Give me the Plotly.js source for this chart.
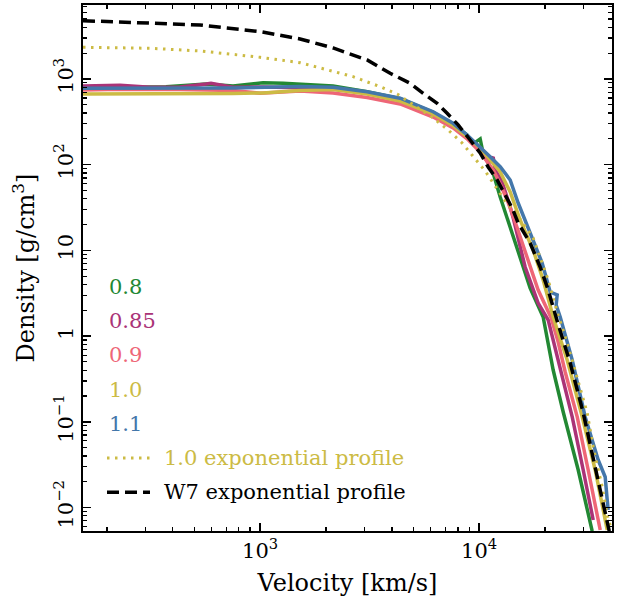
<!DOCTYPE html>
<html><head><meta charset="utf-8">
<script src="https://cdn.plot.ly/plotly-3.0.1.min.js"></script>
<style>html,body{margin:0;padding:0;background:#fff}</style>
</head><body><div id="chart" style="width:624px;height:605px"></div>
<script>
// ---- data (velocity km/s, density g/cm^3) ----
const v08 = [155.5, 229, 372, 567, 753, 1032, 1274, 1523, 2154, 3081, 4358, 6166, 7607, 8813, 9389, 10106, 10400, 10652, 11585, 12475, 13427, 14300, 15389, 17093, 19596, 21772, 24193, 28326, 32810];
const rho08 = [800, 795, 813, 874, 828, 906, 891, 874, 828, 711, 590, 407, 295, 222, 175, 200, 140, 123, 80, 42, 23.9, 14.7, 8.15, 3.64, 1.67, 0.402, 0.130, 0.0274, 0.0053];

const v085 = [155.5, 229.5, 314.6, 431, 567, 597, 753, 1032, 1523, 2154, 3081, 4358, 6166, 7607, 8813, 10106, 10994, 11585, 11834, 12735, 13857, 14300, 16218, 18591, 20660, 23442, 26593, 29855, 33157];
const rho085 = [828, 844, 800, 805, 874, 891, 800, 805, 790, 764, 687, 569, 391, 283, 211, 148, 105, 123, 86.7, 62.8, 32.1, 23.9, 6.4, 2.43, 1.54, 0.435, 0.114, 0.0274, 0.00715];

const v09 = [155.5, 229.5, 431, 753, 1000, 1274, 1523, 2154, 3081, 4358, 6166, 7607, 8813, 10106, 11585, 12475, 13427, 14450, 15556, 16737, 18591, 21320, 22946, 24703, 28029, 31457, 35692];
const rho09 = [744, 759, 754, 735, 681, 705, 724, 687, 608, 511, 360, 268, 200, 141, 86.7, 59.6, 38.7, 23.2, 13.2, 7.33, 3.45, 1.63, 0.853, 0.381, 0.114, 0.0274, 0.00546];

const v10 = [155.5, 314.6, 753, 1032, 1523, 2154, 3081, 4358, 6166, 7607, 8813, 10106, 11226, 12475, 13857, 15389, 17641, 19596, 21772, 25229, 29542, 33865, 38414];
const rho10 = [668, 668, 678, 687, 735, 754, 668, 553, 391, 286, 213, 157, 113.5, 82.2, 48, 22.6, 10.1, 4.52, 1.67, 0.526, 0.114, 0.0274, 0.00546];

const v11 = [155.5, 314.6, 753, 1523, 2154, 3081, 4358, 6166, 7607, 8813, 10106, 11226, 12475, 13857, 15070, 17093, 19392, 21096, 22709, 22470, 23442, 26593, 30479, 34948, 37612, 38414, 38815];
const rho11 = [779, 779, 785, 818, 800, 711, 596, 415, 304, 222, 162, 124, 94.8, 66.3, 35.7, 16, 7.13, 3.27, 3.02, 2.31, 1.67, 0.526, 0.114, 0.0358, 0.0227, 0.01224, 0.00935];

const vExp10 = [155.5, 315, 532, 1000, 1523, 2045, 2659, 3531, 4223, 6166, 7218, 8362, 9389, 10652, 11834, 13152, 14913, 17641, 20660, 22709, 25229, 28928, 31131, 33157, 36445, 38815, 40400];
const rhoExp10 = [2344, 2280, 2122, 1791, 1550, 1274, 1064, 813, 668, 351, 254, 179, 123, 84.4, 56.4, 37.7, 25.9, 14, 4.52, 1.91, 0.83, 0.255, 0.127, 0.0508, 0.0173, 0.00715, 0.0055];

const vW7 = [155.5, 315, 532, 1000, 1523, 2154, 3081, 3924, 4841, 5551, 6430, 7143, 8020, 9098, 10106, 10994, 12086, 13152, 14150, 15070, 17093, 18987, 20660, 22709, 26037, 29855, 33865, 38414, 39250];
const rhoW7 = [4786, 4536, 4266, 3565, 2931, 2301, 1667, 1165, 891, 681, 520, 398, 291, 194, 137, 94, 66.3, 44.3, 31.2, 20.9, 12.2, 6.4, 3.45, 1.5, 0.485, 0.127, 0.0297, 0.00715, 0.0053];

const labels = ['0.8', '0.85', '0.9', '1.0', '1.1', '1.0 exponential profile', 'W7 exponential profile'];
const colors = ['#228833', '#AA3377', '#EE6677', '#CCBB44', '#4477AA', '#CCBB44', '#000000'];
const xTickVals = [1000, 10000];
const xTickText = ['10<sup>3</sup>', '10<sup>4</sup>'];
const yTickVals = [0.01, 0.1, 1, 10, 100, 1000];
const yTickText = ['10<sup>\u22122</sup>', '10<sup>\u22121</sup>', '1', '10', '10<sup>2</sup>', '10<sup>3</sup>'];

// ---- minor tick positions ----
function minors(lo, hi) { const a = []; for (let e = lo; e <= hi; e++) for (let d = 2; d <= 9; d++) a.push(d * Math.pow(10, e)); return a; }

const FONT = '"DejaVu Serif", "Liberation Serif", serif';
const series = [[v08, rho08], [v085, rho085], [v09, rho09], [v10, rho10], [v11, rho11]];
const traces = series.map((s, i) => ({
  x: s[0], y: s[1], type: 'scatter', mode: 'lines', name: labels[i],
  line: { color: colors[i], width: 3.5 }, showlegend: false, hoverinfo: 'skip'
}));
traces.push({ x: vExp10, y: rhoExp10, type: 'scatter', mode: 'lines', name: labels[5],
  line: { color: colors[5], width: 3, dash: '2.5px,5.5px' }, showlegend: false });
traces.push({ x: vW7, y: rhoW7, type: 'scatter', mode: 'lines', name: labels[6],
  line: { color: colors[6], width: 3.5, dash: '12px,6px' }, showlegend: false });

// legend built from annotations
const L = 83, R = 612, T = 5, B = 531, W = 624, H = 605;
const px = x => (x - L) / (R - L), py = y => (B - y) / (B - T);
const annotations = labels.map((t, i) => ({
  xref: 'paper', yref: 'paper', x: px(i < 5 ? 107 : 162), y: py(287 + i * 34.2),
  xanchor: 'left', yanchor: 'middle', showarrow: false, text: t,
  font: { family: FONT, size: 21, color: colors[i] }
}));
const shapes = [
  { type: 'line', xref: 'paper', yref: 'paper', x0: px(107), x1: px(155), y0: py(287 + 5 * 34.2), y1: py(287 + 5 * 34.2),
    line: { color: colors[5], width: 3, dash: '2.5px,5.5px' } },
  { type: 'line', xref: 'paper', yref: 'paper', x0: px(107), x1: px(150), y0: py(287 + 6 * 34.2), y1: py(287 + 6 * 34.2),
    line: { color: colors[6], width: 3.5, dash: '12px,6px' } }
];

const axisCommon = {
  type: 'log', showgrid: false, zeroline: false, showline: true, linecolor: '#000', linewidth: 2,
  mirror: 'ticks', ticks: 'inside', ticklen: 8, tickwidth: 1.5, tickcolor: '#000',
  tickfont: { family: FONT, size: 21, color: '#000' }
};
const layout = {
  width: W, height: H, margin: { l: L, r: W - R, t: T, b: H - B }, paper_bgcolor: '#fff', plot_bgcolor: '#fff',
  font: { family: FONT, color: '#000' },
  xaxis: Object.assign({}, axisCommon, {
    range: [Math.log10(155.5), Math.log10(40400)], tickmode: 'array', tickvals: xTickVals, ticktext: xTickText,
    minor: { tickmode: 'array', tickvals: minors(2, 4), ticks: 'inside', ticklen: 4, tickwidth: 1.2, tickcolor: '#000' },
    title: { text: 'Velocity [km/s]', font: { family: FONT, size: 24, color: '#000' }, standoff: 12 }
  }),
  yaxis: Object.assign({}, axisCommon, {
    range: [Math.log10(0.00532), Math.log10(7295)], tickmode: 'array', tickvals: yTickVals, ticktext: yTickText, tickangle: -90,
    minor: { tickmode: 'array', tickvals: minors(-3, 3), ticks: 'inside', ticklen: 4, tickwidth: 1.2, tickcolor: '#000' },
    title: { text: 'Density [g/cm<sup>3</sup>]', font: { family: FONT, size: 24, color: '#000' }, standoff: 8 }
  }),
  annotations: annotations, shapes: shapes
};
Plotly.newPlot('chart', traces, layout, { staticPlot: true, displayModeBar: false });
</script></body></html>
